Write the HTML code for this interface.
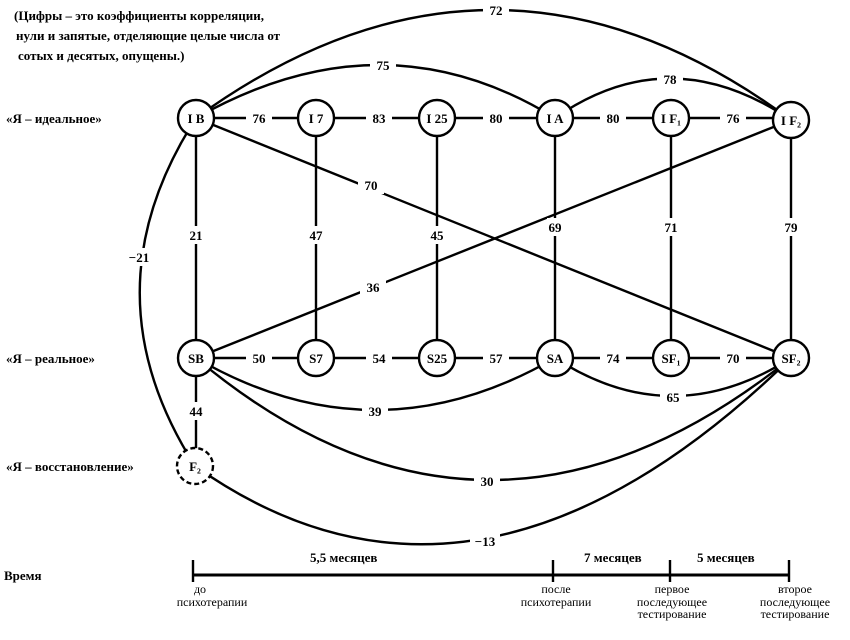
<!DOCTYPE html>
<html><head><meta charset="utf-8"><style>
html,body{margin:0;padding:0;background:#fff;}
svg{display:block;}
text{font-family:"Liberation Serif",serif;fill:#000;}
</style></head><body>
<svg width="850" height="640" viewBox="0 0 850 640" xmlns="http://www.w3.org/2000/svg">
<g fill="none" stroke="#000" stroke-width="2.4">
<path d="M196,118 Q495,-99 791,120"/>
<path d="M196,118 Q383,12 555,118"/>
<path d="M555,118 Q670,38 791,120"/>
<path d="M196,118 Q84,292 195,466"/>
<path d="M196,358 Q375,462 555,358"/>
<path d="M555,358 Q672,434 791,358"/>
<path d="M196,358 Q487,602 791,358"/>
<path d="M195,466 Q476,665 791,358"/>
<line x1="196" y1="118" x2="791" y2="358"/>
<line x1="196" y1="358" x2="791" y2="120"/>
<line x1="196" y1="118" x2="791" y2="118"/>
<line x1="196" y1="358" x2="791" y2="358"/>
<line x1="196" y1="118" x2="196" y2="466"/>
<line x1="316" y1="118" x2="316" y2="358"/>
<line x1="437" y1="118" x2="437" y2="358"/>
<line x1="555" y1="118" x2="555" y2="358"/>
<line x1="671" y1="118" x2="671" y2="358"/>
<line x1="791" y1="120" x2="791" y2="358"/>
<line x1="193" y1="575" x2="790" y2="575" stroke-width="3"/>
<line x1="193" y1="560" x2="193" y2="582"/>
<line x1="553" y1="560" x2="553" y2="582"/>
<line x1="670" y1="560" x2="670" y2="582"/>
<line x1="789" y1="560" x2="789" y2="582"/>
</g>
<g fill="#fff">
<rect x="483" y="1" width="26" height="18"/><rect x="370" y="56" width="26" height="18"/>
<rect x="657" y="70" width="26" height="18"/><rect x="124" y="248" width="30" height="18"/>
<rect x="362" y="402" width="26" height="18"/><rect x="660" y="388" width="26" height="18"/>
<rect x="474" y="472" width="26" height="18"/><rect x="470" y="532" width="30" height="18"/>
<rect x="246" y="110" width="26" height="16"/><rect x="366" y="110" width="26" height="16"/>
<rect x="483" y="110" width="26" height="16"/><rect x="600" y="110" width="26" height="16"/>
<rect x="720" y="110" width="26" height="16"/>
<rect x="246" y="350" width="26" height="16"/><rect x="366" y="350" width="26" height="16"/>
<rect x="483" y="350" width="26" height="16"/><rect x="600" y="350" width="26" height="16"/>
<rect x="720" y="350" width="26" height="16"/>
<rect x="188" y="226" width="16" height="18"/><rect x="308" y="226" width="16" height="18"/>
<rect x="429" y="226" width="16" height="18"/><rect x="547" y="218" width="16" height="18"/>
<rect x="663" y="218" width="16" height="18"/><rect x="783" y="218" width="16" height="18"/>
<rect x="188" y="402" width="16" height="18"/><rect x="360" y="278" width="26" height="18"/>
<rect x="358" y="176" width="26" height="18"/>
</g>
<g fill="#fff" stroke="#000" stroke-width="2.4">
<circle cx="196" cy="118" r="18"/><circle cx="316" cy="118" r="18"/><circle cx="437" cy="118" r="18"/>
<circle cx="555" cy="118" r="18"/><circle cx="671" cy="118" r="18"/><circle cx="791" cy="120" r="18"/>
<circle cx="196" cy="358" r="18"/><circle cx="316" cy="358" r="18"/><circle cx="437" cy="358" r="18"/>
<circle cx="555" cy="358" r="18"/><circle cx="671" cy="358" r="18"/><circle cx="791" cy="358" r="18"/>
<circle cx="195" cy="466" r="18" stroke-dasharray="5,3"/>
</g>
<g font-size="13" font-weight="bold" text-anchor="middle">
<text x="196" y="123">I B</text><text x="316" y="123">I 7</text><text x="437" y="123">I 25</text>
<text x="555" y="123">I A</text><text x="671" y="123">I F₁</text><text x="791" y="125">I F₂</text>
<text x="196" y="363">SB</text><text x="316" y="363">S7</text><text x="437" y="363">S25</text>
<text x="555" y="363">SA</text><text x="671" y="363">SF₁</text><text x="791" y="363">SF₂</text>
<text x="195" y="471">F₂</text>
</g>
<g font-size="13" font-weight="bold" text-anchor="middle">
<text x="496" y="15">72</text><text x="383" y="70">75</text><text x="670" y="84">78</text>
<text x="139" y="262">−21</text><text x="375" y="416">39</text><text x="673" y="402">65</text>
<text x="487" y="486">30</text><text x="485" y="546">−13</text>
<text x="259" y="123">76</text><text x="379" y="123">83</text><text x="496" y="123">80</text>
<text x="613" y="123">80</text><text x="733" y="123">76</text>
<text x="259" y="363">50</text><text x="379" y="363">54</text><text x="496" y="363">57</text>
<text x="613" y="363">74</text><text x="733" y="363">70</text>
<text x="196" y="240">21</text><text x="316" y="240">47</text><text x="437" y="240">45</text>
<text x="555" y="232">69</text><text x="671" y="232">71</text><text x="791" y="232">79</text>
<text x="196" y="416">44</text><text x="373" y="292">36</text><text x="371" y="190">70</text>
</g>
<g font-size="13" font-weight="bold">
<text x="14" y="20">(Цифры –  это коэффициенты корреляции,</text>
<text x="16" y="40">нули и запятые, отделяющие целые числа от</text>
<text x="18" y="60">сотых и десятых, опущены.)</text>
<text x="6" y="123">«Я –  идеальное»</text>
<text x="6" y="363">«Я –  реальное»</text>
<text x="6" y="471">«Я –  восстановление»</text>
<text x="4" y="580">Время</text>
<text x="310" y="562">5,5 месяцев</text>
<text x="584" y="562">7 месяцев</text>
<text x="697" y="562">5 месяцев</text>
</g>
<g font-size="12" text-anchor="middle">
<text x="200" y="593">до</text><text x="212" y="606">психотерапии</text>
<text x="556" y="593">после</text><text x="556" y="606">психотерапии</text>
<text x="672" y="593">первое</text><text x="672" y="606">последующее</text><text x="672" y="618">тестирование</text>
<text x="795" y="593">второе</text><text x="795" y="606">последующее</text><text x="795" y="618">тестирование</text>
</g>
</svg>
</body></html>
